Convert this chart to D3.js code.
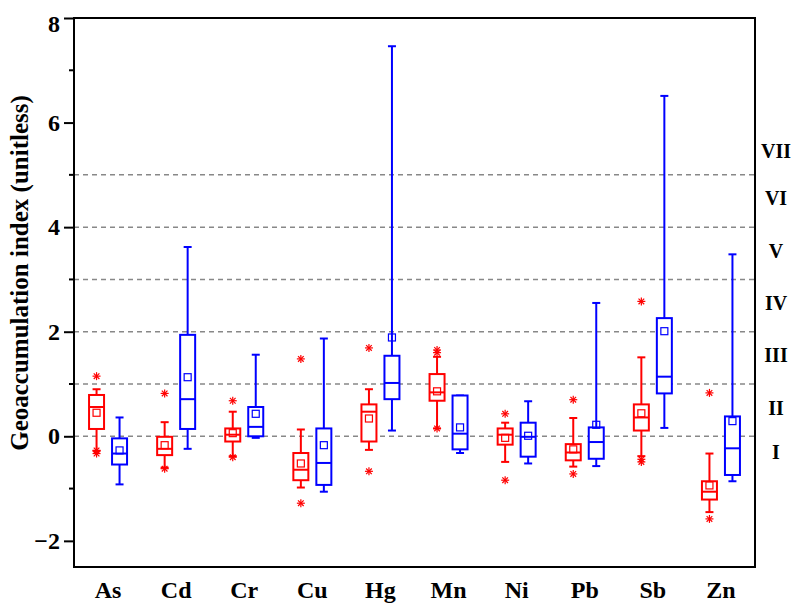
<!DOCTYPE html>
<html>
<head>
<meta charset="utf-8">
<script src="https://cdn.jsdelivr.net/npm/d3@7"></script>
<style>
  body { margin: 0; background: #fff; }
  text { font-family: "Liberation Serif", "Times New Roman", serif; font-weight: bold; }
</style>
</head>
<body>
<svg id="chart" width="794" height="603"></svg>
<script>
// elements on the x axis
const elements = ['As', 'Cd', 'Cr', 'Cu', 'Hg', 'Mn', 'Ni', 'Pb', 'Sb', 'Zn'];

// box stats per element: [lower whisker, q1, median, q3, upper whisker, mean]
const redStats = [
  [-0.28, 0.14, 0.56, 0.79, 0.90, 0.45],
  [-0.60, -0.36, -0.24, -0.01, 0.27, -0.17],
  [-0.38, -0.10, 0.03, 0.15, 0.47, 0.06],
  [-0.98, -0.84, -0.64, -0.32, 0.13, -0.52],
  [-0.26, -0.10, 0.47, 0.61, 0.90, 0.34],
  [0.15, 0.68, 0.84, 1.19, 1.52, 0.86],
  [-0.49, -0.16, 0.03, 0.15, 0.26, -0.03],
  [-0.58, -0.46, -0.31, -0.15, 0.35, -0.25],
  [-0.38, 0.11, 0.36, 0.61, 1.51, 0.44],
  [-1.45, -1.21, -1.06, -0.86, -0.33, -0.94]
];
const blueStats = [
  [-0.92, -0.54, -0.33, -0.04, 0.36, -0.27],
  [-0.24, 0.14, 0.71, 1.94, 3.62, 1.13],
  [-0.03, 0.00, 0.18, 0.56, 1.56, 0.43],
  [-1.06, -0.93, -0.51, 0.15, 1.87, -0.17],
  [0.11, 0.71, 1.02, 1.54, 7.46, 1.89],
  [-0.32, -0.25, 0.05, 0.78, 0.78, 0.17],
  [-0.52, -0.39, -0.01, 0.26, 0.67, 0.01],
  [-0.57, -0.43, -0.11, 0.17, 2.55, 0.22],
  [0.16, 0.82, 1.14, 2.26, 6.51, 2.01],
  [-0.86, -0.74, -0.23, 0.38, 3.48, 0.29]
];

// outliers (only the red series has them)
const redOutliers = [
  [1.15, -0.27, -0.33],
  [0.82, -0.62],
  [0.68, -0.40],
  [1.48, -1.28],
  [1.69, -0.67],
  [1.65, 1.60, 0.15],
  [0.43, -0.84],
  [0.70, -0.72],
  [2.58, -0.44, -0.49],
  [0.83, -1.58]
];

const yTicks = [-2, 0, 2, 4, 6, 8];
const yMinorTicks = [-1, 1, 3, 5, 7];
const classLines = [0, 1, 2, 3, 4, 5];
const classLabels = ['I', 'II', 'III', 'IV', 'V', 'VI', 'VII'];
const classLabelPos = [-0.3, 0.55, 1.55, 2.55, 3.55, 4.55, 5.45];

const margin = { top: 18, right: 39, bottom: 36, left: 74 };
const width = 794, height = 603;

const svg = d3.select('#chart');

const x = d3.scaleBand()
  .domain(elements)
  .range([margin.left, width - margin.right]);

const y = d3.scaleLinear()
  .domain([-2.5, 8])
  .range([height - margin.bottom, margin.top]);

const offset = 11.5;
const boxW = 15;
const capW = 8;

// dashed class lines
svg.append('g')
  .selectAll('line')
  .data(classLines)
  .join('line')
  .attr('x1', margin.left)
  .attr('x2', width - margin.right)
  .attr('y1', (d) => y(d))
  .attr('y2', (d) => y(d))
  .attr('stroke', '#888')
  .attr('stroke-width', 1.5)
  .attr('stroke-dasharray', '5,4');

function drawBoxes(stats, color, dx) {
  const g = svg.append('g')
    .attr('stroke', color)
    .attr('fill', 'none')
    .attr('stroke-width', 2);

  stats.forEach((s, i) => {
    const cx = x(elements[i]) + x.bandwidth() / 2 + dx;
    const [lo, q1, med, q3, hi, mean] = s;

    // whiskers
    g.append('line').attr('x1', cx).attr('x2', cx).attr('y1', y(q3)).attr('y2', y(hi));
    g.append('line').attr('x1', cx).attr('x2', cx).attr('y1', y(q1)).attr('y2', y(lo));
    g.append('line').attr('x1', cx - capW / 2).attr('x2', cx + capW / 2).attr('y1', y(hi)).attr('y2', y(hi));
    g.append('line').attr('x1', cx - capW / 2).attr('x2', cx + capW / 2).attr('y1', y(lo)).attr('y2', y(lo));

    // box + median
    g.append('rect')
      .attr('x', cx - boxW / 2)
      .attr('y', y(q3))
      .attr('width', boxW)
      .attr('height', y(q1) - y(q3))
      .attr('fill', '#fff');
    g.append('line').attr('x1', cx - boxW / 2).attr('x2', cx + boxW / 2).attr('y1', y(med)).attr('y2', y(med));

    // mean square
    g.append('rect')
      .attr('x', cx - 3.5)
      .attr('y', y(mean) - 3.5)
      .attr('width', 7)
      .attr('height', 7)
      .attr('stroke-width', 1.2);
  });
}

drawBoxes(redStats, '#ff0000', -offset);
drawBoxes(blueStats, '#0000ff', offset);

// outlier stars
const star = svg.append('g').attr('stroke', '#ff0000').attr('stroke-width', 1.2);
redOutliers.forEach((arr, i) => {
  const cx = x(elements[i]) + x.bandwidth() / 2 - offset;
  arr.forEach((v) => {
    const cy = y(v);
    const r = 4;
    for (let k = 0; k < 4; k++) {
      const a = (Math.PI / 4) * k;
      star.append('line')
        .attr('x1', cx - r * Math.cos(a)).attr('y1', cy - r * Math.sin(a))
        .attr('x2', cx + r * Math.cos(a)).attr('y2', cy + r * Math.sin(a));
    }
  });
});

// frame
svg.append('rect')
  .attr('x', margin.left)
  .attr('y', margin.top)
  .attr('width', width - margin.left - margin.right)
  .attr('height', height - margin.top - margin.bottom)
  .attr('fill', 'none')
  .attr('stroke', '#000')
  .attr('stroke-width', 2);

// y axis
const yAxis = svg.append('g')
  .attr('transform', `translate(${margin.left},0)`)
  .call(d3.axisLeft(y).tickValues(yTicks).tickSize(10).tickPadding(4)
    .tickFormat((d) => (d < 0 ? '\u2212' + Math.abs(d) : d)));
yAxis.select('.domain').remove();
yAxis.selectAll('line').attr('stroke-width', 2);
yAxis.selectAll('text').attr('font-size', 24).attr('fill', '#000');
yAxis.selectAll('.tick').filter((d) => d === 8).select('text').attr('dy', '0.55em');

svg.append('g')
  .selectAll('line')
  .data(yMinorTicks)
  .join('line')
  .attr('x1', margin.left - 5)
  .attr('x2', margin.left)
  .attr('y1', (d) => y(d))
  .attr('y2', (d) => y(d))
  .attr('stroke', '#000')
  .attr('stroke-width', 2);

// x labels
svg.append('g')
  .selectAll('text')
  .data(elements)
  .join('text')
  .attr('x', (d) => x(d) + x.bandwidth() / 2)
  .attr('y', 598)
  .attr('text-anchor', 'middle')
  .attr('font-size', 24)
  .text((d) => d);

// class labels on the right
svg.append('g')
  .selectAll('text')
  .data(classLabels)
  .join('text')
  .attr('x', 776)
  .attr('y', (d, i) => y(classLabelPos[i]))
  .attr('dy', '0.35em')
  .attr('text-anchor', 'middle')
  .attr('font-size', 20)
  .text((d) => d);

// y title
svg.append('text')
  .attr('transform', 'translate(28,273) rotate(-90)')
  .attr('text-anchor', 'middle')
  .attr('font-size', 25)
  .text('Geoaccumulation index (unitless)');
</script>
</body>
</html>
